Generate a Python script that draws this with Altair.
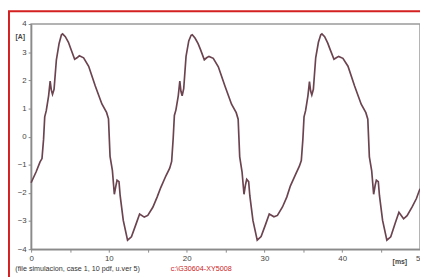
import altair as alt
import pandas as pd

# One 60 Hz cycle (16.67 ms) sampled at these time offsets [ms]
PERIOD = 16.67
CYCLE_OFFSETS = [0.00, 0.65, 1.15, 1.40, 1.60, 1.75, 1.95, 2.25, 2.45, 2.60, 2.75, 2.95,
                 3.25, 3.60, 3.90, 4.05, 4.40, 4.80, 5.10, 5.60, 5.90, 6.20, 6.75, 7.40,
                 8.25, 9.10, 9.70, 9.95, 10.15, 10.45, 10.70, 10.90, 11.05, 11.30, 11.45,
                 11.85, 12.40, 12.90, 13.50, 13.95, 14.55, 15.00, 15.65, 16.20]
# current [A]
CYCLE_1 = [-1.64, -1.25, -0.90, -0.78, -0.10, 0.70, 0.92, 1.45, 1.97, 1.65, 1.50, 1.68,
           2.73, 3.31, 3.62, 3.65, 3.55, 3.35, 3.12, 2.75, 2.80, 2.87, 2.80, 2.50,
           1.80, 1.16, 0.86, 0.63, -0.70, -1.20, -2.05, -1.75, -1.55, -1.60, -2.10,
           -2.98, -3.68, -3.56, -3.10, -2.75, -2.86, -2.80, -2.51, -2.15]
CYCLE_2 = [-1.81, -1.40, -1.12, -0.88, -0.05, 0.75, 0.95, 1.45, 1.97, 1.60, 1.45, 1.70,
           2.85, 3.40, 3.60, 3.62, 3.50, 3.30, 3.10, 2.73, 2.80, 2.85, 2.78, 2.48,
           1.80, 1.15, 0.85, 0.62, -0.72, -1.25, -2.05, -1.70, -1.52, -1.60, -2.10,
           -2.98, -3.68, -3.55, -3.10, -2.75, -2.85, -2.80, -2.50, -2.15]
CYCLE_3 = [-1.75, -1.35, -1.05, -0.85, -0.10, 0.70, 0.92, 1.45, 1.95, 1.62, 1.48, 1.68,
           2.80, 3.35, 3.62, 3.65, 3.55, 3.32, 3.10, 2.75, 2.80, 2.85, 2.78, 2.50,
           1.80, 1.15, 0.85, 0.62, -0.72, -1.22, -2.05, -1.72, -1.55, -1.60, -2.10,
           -2.98, -3.68, -3.56, -3.05, -2.69, -2.92, -2.81, -2.50, -2.20]
END_T = 50.0
END_V = -1.85

X_TICKS = [0, 5, 10, 15, 20, 25, 30, 35, 40, 45, 50]
Y_TICKS = [-4, -3, -2, -1, 0, 1, 2, 3, 4]

FOOTER_BLACK = "(file simulacion, case 1, 10 pdf, u.ver 5)"
FOOTER_RED = "c:\\G30604-XY5008"

rows = []
for k, cyc in enumerate([CYCLE_1, CYCLE_2, CYCLE_3]):
    for off, v in zip(CYCLE_OFFSETS, cyc):
        rows.append({"t": off + k * PERIOD, "i": v})
rows.append({"t": END_T, "i": END_V})
df = pd.DataFrame(rows)
one = pd.DataFrame({"a": [0]})

FONT = "Liberation Sans"
GRAY = "#444444"

x_enc = alt.X("t:Q", scale=alt.Scale(domain=[0, 50], nice=False, zero=False),
              axis=alt.Axis(values=X_TICKS, title=None, grid=False,
                            labelExpr="datum.value % 10 == 0 ? datum.label : ''",
                            tickSize=3, labelPadding=3, labelFontSize=8,
                            labelColor=GRAY, labelFont=FONT, domainColor="#8a8a8a",
                            domainWidth=1.5, tickColor="#8a8a8a", labelFlush=False))
y_enc = alt.Y("i:Q", scale=alt.Scale(domain=[-4, 4], nice=False),
              axis=alt.Axis(values=Y_TICKS, title=None, grid=False,
                            tickSize=3, labelPadding=2, labelFontSize=8,
                            labelColor=GRAY, labelFont=FONT, domainColor="#8a8a8a",
                            domainWidth=1.5, tickColor="#8a8a8a", labelFlush=False))

line = alt.Chart(df).mark_line(color="#6b4450", strokeWidth=1.7,
                               interpolate="linear").encode(x=x_enc, y=y_enc)

unit_a = alt.Chart(one).mark_text(text="[A]", fontSize=7, font=FONT, color=GRAY,
                                  fontWeight="bold").encode(
    x=alt.value(-11), y=alt.value(13))
unit_ms = alt.Chart(one).mark_text(text="[ms]", fontSize=7, font=FONT, color=GRAY,
                                   fontWeight="bold").encode(
    x=alt.value(375), y=alt.value(242))
foot1 = alt.Chart(one).mark_text(text=FOOTER_BLACK, fontSize=7.3, font=FONT,
                                 color="#333333", align="left",
                                 baseline="middle").encode(
    x=alt.value(-16), y=alt.value(249))
foot2 = alt.Chart(one).mark_text(text=FOOTER_RED, fontSize=7.3, font=FONT,
                                 color="#cc2222", align="left",
                                 baseline="middle").encode(
    x=alt.value(142), y=alt.value(249))
red_left = alt.Chart(one).mark_rule(color="#d42020", strokeWidth=2).encode(
    x=alt.value(-22.5), y=alt.value(-13), y2=alt.value(270))
red_top = alt.Chart(one).mark_rule(color="#d42020", strokeWidth=2).encode(
    x=alt.value(-23.5), x2=alt.value(400), y=alt.value(-13))

chart = alt.layer(line, unit_a, unit_ms, foot1, foot2, red_left, red_top).properties(
    width=395.5, height=229,
    padding={"left": 23.5, "top": 14, "right": 0, "bottom": 26},
    autosize=alt.AutoSizeParams(type="none"),
    background="white",
).configure_view(stroke="#9a9a9a", strokeWidth=1.5)

chart.save("out.html", embed_options={"renderer": "svg", "actions": False})
